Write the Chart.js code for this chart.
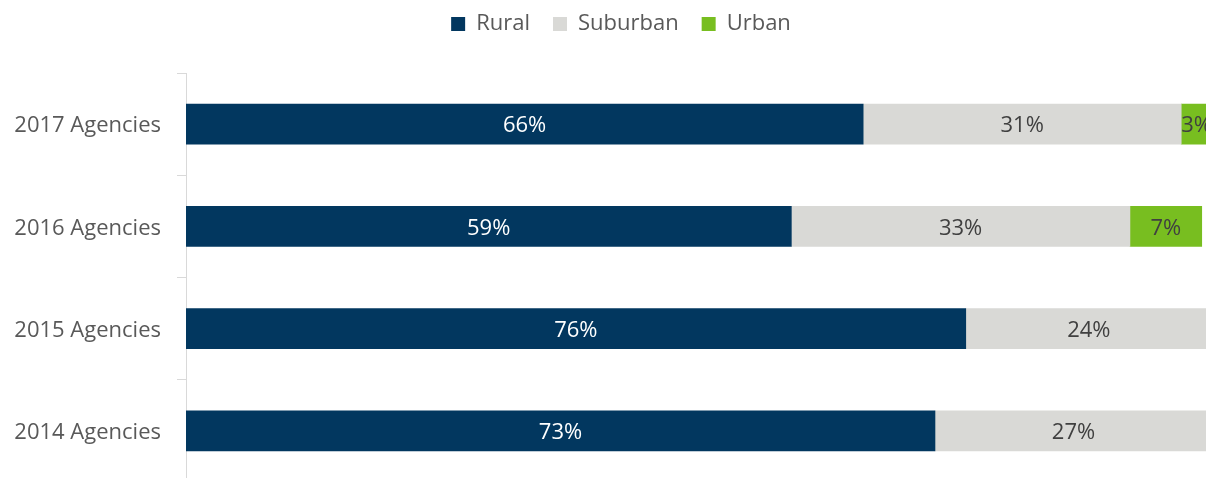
<!DOCTYPE html>
<html>
<head>
<meta charset="utf-8">
<script src="https://cdn.jsdelivr.net/npm/chart.js@4"></script>
<style>
html,body{margin:0;padding:0;background:#fff;overflow:hidden;}
#wrap{width:1212px;height:482px;position:relative;}
</style>
</head>
<body>
<div id="wrap"><canvas id="c"></canvas></div>
<script>
const categories = ["2017 Agencies", "2016 Agencies", "2015 Agencies", "2014 Agencies"];
const rural = [66, 59, 76, 73];
const suburban = [31, 33, 24, 27];
const urban = [3, 7, 0, 0];
const seriesNames = ["Rural", "Suburban", "Urban"];
const seriesColors = ["#02375f", "#d9d9d6", "#78be20"];
const labelColors = ["#ffffff", "#404040", "#404040"];
const FONT = '"Open Sans", "Noto Sans", sans-serif';

const labelPlugin = {
  id: 'segLabels',
  afterDatasetsDraw(chart) {
    const ctx = chart.ctx;
    ctx.save();
    ctx.font = '22px ' + FONT;
    ctx.textAlign = 'center';
    ctx.textBaseline = 'middle';
    chart.data.datasets.forEach((ds, di) => {
      const meta = chart.getDatasetMeta(di);
      meta.data.forEach((bar, i) => {
        const v = ds.data[i];
        if (!v) return;
        const p = bar.getProps(['x', 'y', 'base'], true);
        const cx = (p.x + p.base) / 2;
        ctx.fillStyle = labelColors[di];
        ctx.fillText(v + '%', cx, p.y + 2);
      });
    });
    ctx.restore();
  }
};

const legendSpacer = {
  id: 'legendSpacer',
  beforeInit(chart) {
    const lg = chart.legend;
    if (!lg) return;
    const orig = lg.fit;
    lg.fit = function () {
      orig.call(this);
      this.height += 32;
    };
  },
  afterLayout(chart) {
    const lg = chart.legend;
    if (!lg) return;
    lg.left += 15; lg.right += 15;
    lg.top += 4;
  }
};

new Chart(document.getElementById('c'), {
  type: 'bar',
  data: {
    labels: categories,
    datasets: [
      { label: seriesNames[0], data: rural, backgroundColor: seriesColors[0] },
      { label: seriesNames[1], data: suburban, backgroundColor: seriesColors[1] },
      { label: seriesNames[2], data: urban, backgroundColor: seriesColors[2] }
    ]
  },
  options: {
    indexAxis: 'y',
    responsive: true,
    maintainAspectRatio: false,
    animation: false,
    datasets: { bar: { categoryPercentage: 1, barThickness: 40 } },
    layout: { padding: { top: -14, left: 0, right: 0, bottom: 0 } },
    plugins: {
      legend: {
        position: 'top',
        align: 'center',
        labels: {
          boxWidth: 14, boxHeight: 14,
          color: '#595959',
          font: { size: 22, family: FONT },
          padding: 23
        }
      },
      tooltip: { enabled: false }
    },
    scales: {
      x: { stacked: true, min: 0, max: 100, display: false },
      y: {
        stacked: true,
        afterFit(scale) { scale.width = 186; scale.paddingTop = 0; scale.paddingBottom = 0; },
        border: { display: true, color: '#d9d9d9', width: 1 },
        grid: { offset: true, drawOnChartArea: false, drawTicks: true, tickLength: 9, color: '#d9d9d9' },
        ticks: { color: '#595959', font: { size: 22, family: FONT }, padding: 16, labelOffset: 2 }
      }
    }
  },
  plugins: [labelPlugin, legendSpacer]
});
</script>
</body>
</html>
